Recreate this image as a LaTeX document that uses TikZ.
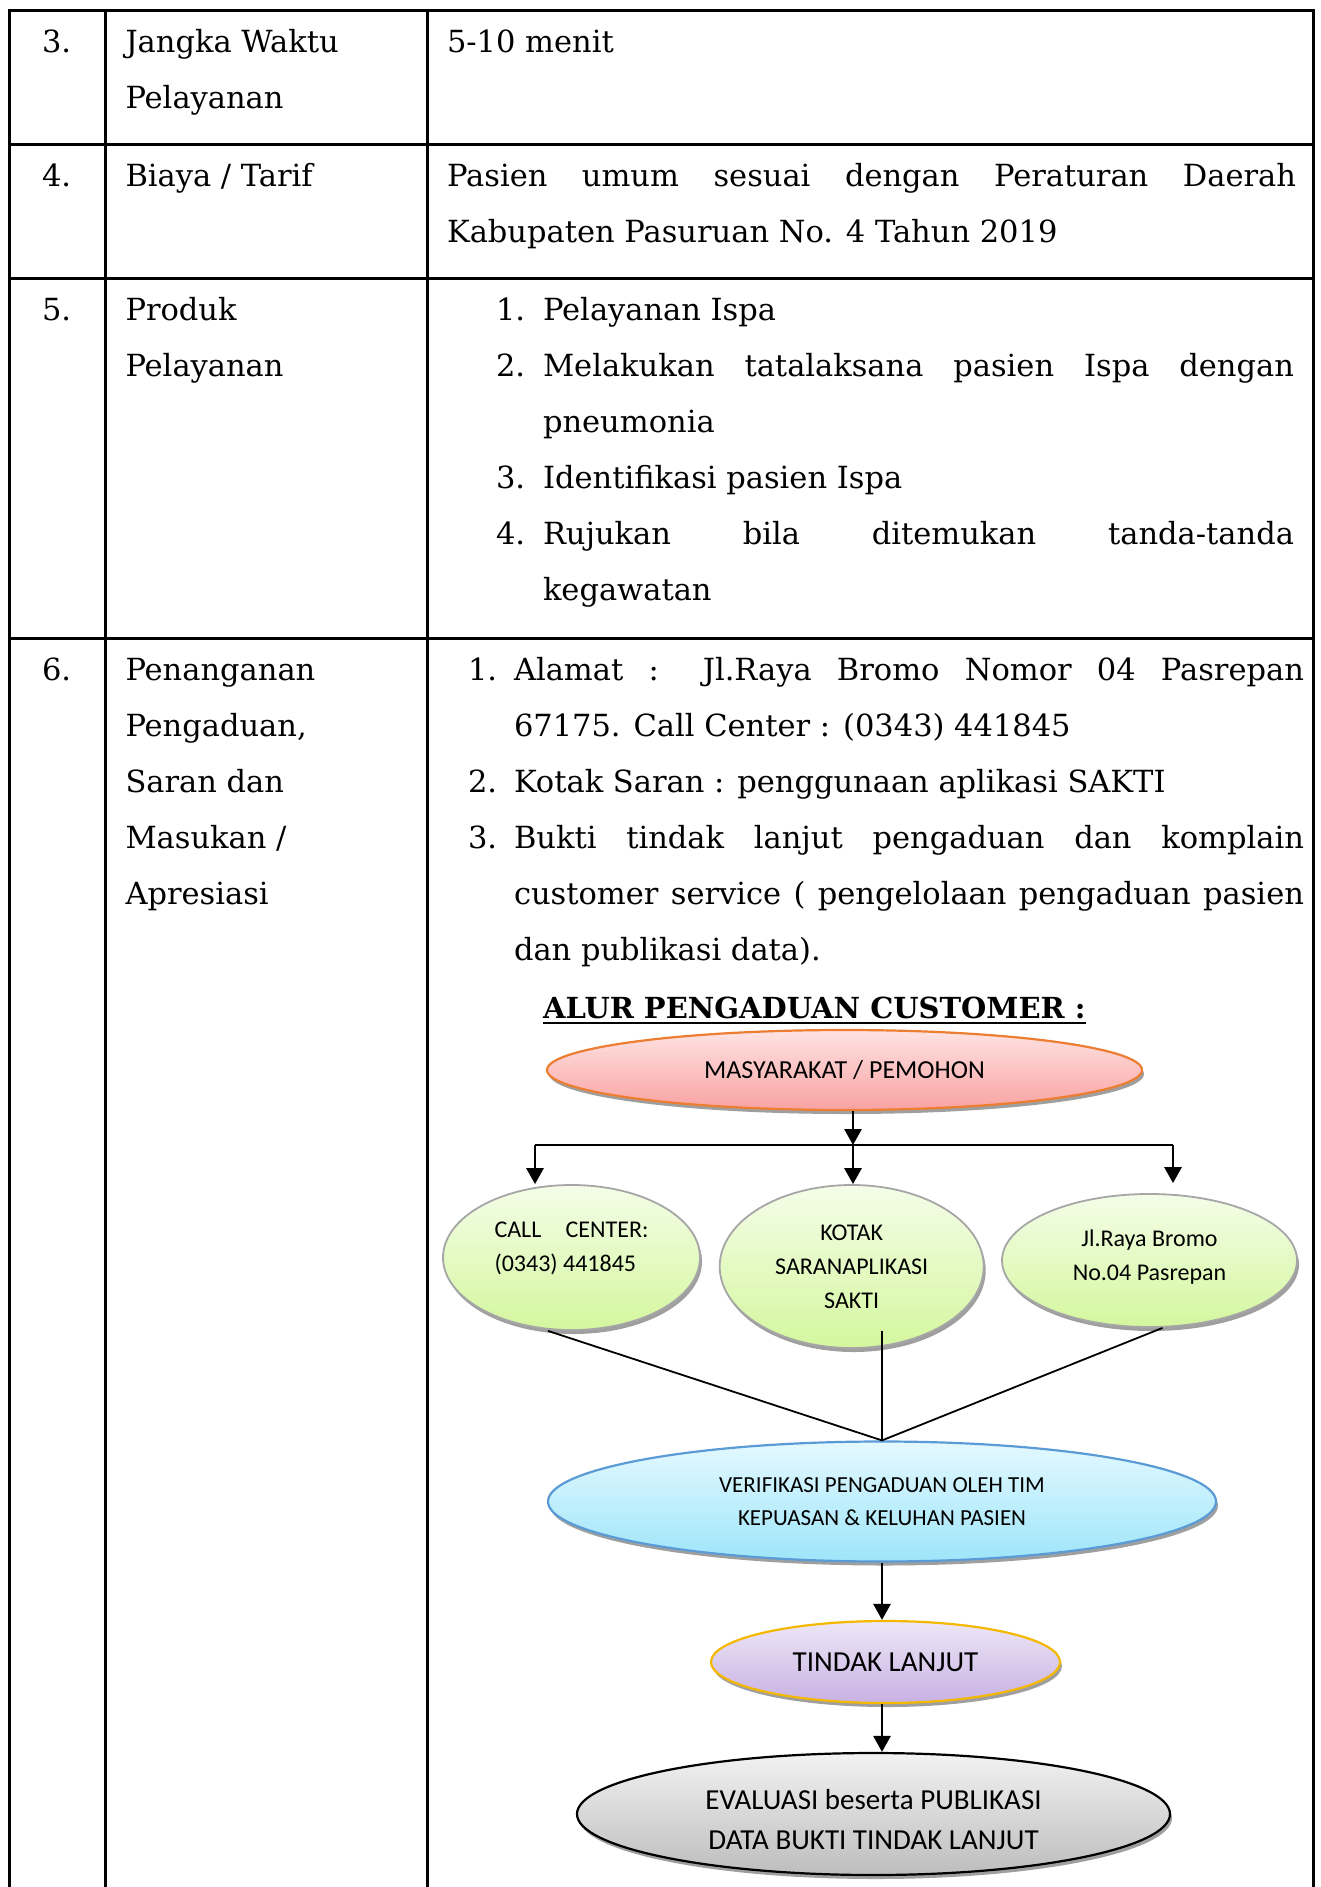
\documentclass[tikz,border=0pt]{standalone}
\usepackage{fontspec}
\setmainfont{DejaVu Serif}
\newfontfamily\calfont{Carlito}
\usetikzlibrary{shapes.geometric,shadows,arrows.meta}
\definecolor{pinkT}{HTML}{FFE3E3}
\definecolor{pinkB}{HTML}{F9A2A2}
\definecolor{orangeBd}{HTML}{ED7D31}
\definecolor{greenT}{HTML}{F4FDE8}
\definecolor{greenB}{HTML}{D4F79E}
\definecolor{grayBd}{HTML}{A6A6A6}
\definecolor{blueT}{HTML}{E4F9FF}
\definecolor{blueB}{HTML}{9EE5FA}
\definecolor{blueBd}{HTML}{5B9BD5}
\definecolor{lavT}{HTML}{EEE7F7}
\definecolor{lavB}{HTML}{C8B1E3}
\definecolor{goldBd}{HTML}{F5B800}
\definecolor{grayT}{HTML}{F2F2F2}
\definecolor{grayB}{HTML}{BDBDBD}
\begin{document}
\begin{tikzpicture}[x=1pt,y=-1pt,
  tline/.style={line width=3pt},
  cell/.style={anchor=base west, inner sep=0pt, outer sep=0pt, font=\fontsize{30.5}{56}\selectfont},
  ell/.style={ellipse, inner sep=0pt, line width=2.2pt, align=center,
    drop shadow={shadow xshift=2pt, shadow yshift=-4pt, fill=gray!75, opacity=1}},
  greenell/.style={ell, draw=grayBd, line width=1.8pt, top color=greenT, bottom color=greenB,
    font=\calfont\fontsize{24}{34}\selectfont},
  arr/.style={line width=2.8pt, -{Triangle[width=17pt,length=16pt]}},
  busline/.style={line width=2.5pt},
  conn/.style={line width=1.8pt},
]
\useasboundingbox (0,0) rectangle (1321,1887);
% ---------- table ----------
\draw[tline, line join=miter] (9,1890) -- (9,10) -- (1313,10) -- (1313,1890);
\draw[tline] (105,10) -- (105,1890);
\draw[tline] (427,10) -- (427,1890);
\draw[tline] (9,144) -- (1313,144);
\draw[tline] (9,278) -- (1313,278);
\draw[tline] (9,638) -- (1313,638);
% row 3
\node[cell] (n3) at (42,52) {3.};
\node[cell] (a3a) at (125.5,52) {Jangka Waktu};
\node[cell] (a3b) at (125.5,108) {Pelayanan};
\node[cell] (b3) at (447,52) {5-10 menit};
% row 4
\node[cell] (n4) at (42,186) {4.};
\node[cell] (a4) at (125.5,186) {Biaya / Tarif};
\node[cell] (b4a) at (447,186) {\makebox[849pt][s]{Pasien umum sesuai dengan Peraturan Daerah}};
\node[cell] (b4b) at (447,242) {Kabupaten Pasuruan No. 4 Tahun 2019};
% row 5
\node[cell] (n5) at (42,320) {5.};
\node[cell] (a5a) at (125.5,320) {Produk};
\node[cell] (a5b) at (125.5,376) {Pelayanan};
\node[cell] (l51) at (496,320) {1.};
\node[cell] (b51) at (543,320) {Pelayanan Ispa};
\node[cell] (l52) at (496,376) {2.};
\node[cell] (b52a) at (543,376) {\makebox[751pt][s]{Melakukan tatalaksana pasien Ispa dengan}};
\node[cell] (b52b) at (543,432) {pneumonia};
\node[cell] (l53) at (496,488) {3.};
\node[cell] (b53) at (543,488) {Identifikasi pasien Ispa};
\node[cell] (l54) at (496,544) {4.};
\node[cell] (b54a) at (543,544) {\makebox[751pt][s]{Rujukan bila ditemukan tanda-tanda}};
\node[cell] (b54b) at (543,600) {kegawatan};
% row 6
\node[cell] (n6) at (42,680) {6.};
\node[cell] (a6a) at (125.5,680) {Penanganan};
\node[cell] (a6b) at (125.5,736) {Pengaduan,};
\node[cell] (a6c) at (125.5,792) {Saran dan};
\node[cell] (a6d) at (125.5,848) {Masukan /};
\node[cell] (a6e) at (125.5,904) {Apresiasi};
\node[cell] (l61) at (468,680) {1.};
\node[cell] (b61a) at (514,680) {\makebox[790pt][s]{Alamat : Jl.Raya Bromo Nomor 04 Pasrepan}};
\node[cell] (b61b) at (514,736) {67175. Call Center : (0343) 441845};
\node[cell] (l62) at (468,792) {2.};
\node[cell] (b62) at (514,792) {Kotak Saran : penggunaan aplikasi SAKTI};
\node[cell] (l63) at (468,848) {3.};
\node[cell] (b63a) at (514,848) {\makebox[790pt][s]{Bukti tindak lanjut pengaduan dan komplain}};
\node[cell] (b63b) at (514,904) {\makebox[790pt][s]{customer service ( pengelolaan pengaduan pasien}};
\node[cell] (b63c) at (514,960) {dan publikasi data).};
% title
\node[anchor=base west, inner sep=0pt, font=\bfseries\fontsize{29}{36}\selectfont] (title) at (543,1018) {ALUR PENGADUAN CUSTOMER :};
\draw[line width=2.5pt] ([yshift=-5pt]title.base west) -- ([yshift=-5pt]title.base east);
% ---------- flow diagram ----------
\node[ell, draw=orangeBd, top color=pinkT, bottom color=pinkB, minimum width=595pt, minimum height=80pt,
  font=\calfont\fontsize{26}{30}\selectfont] (mas) at (844.5,1070) {MASYARAKAT / PEMOHON};
\node[greenell, minimum width=257pt, minimum height=145pt, align=left] (cc) at (571.5,1257.5)
  {\makebox[154pt]{CALL\hfill CENTER:}\\(0343) 441845\rule[-22pt]{0pt}{0pt}};
\node[greenell, minimum width=264pt, minimum height=163pt] (kotak) at (851.7,1266.5)
  {KOTAK\\SARANAPLIKASI\\SAKTI};
\node[greenell, minimum width=295pt, minimum height=133pt] (jl) at (1149.5,1260.5)
  {Jl.Raya Bromo\\No.04 Pasrepan\rule[-11pt]{0pt}{0pt}};
\node[ell, draw=blueBd, top color=blueT, bottom color=blueB, minimum width=668pt, minimum height=120pt,
  font=\calfont\fontsize{23}{33}\selectfont] (ver) at (882,1501.5)
  {VERIFIKASI PENGADUAN OLEH TIM\\KEPUASAN \& KELUHAN PASIEN};
\node[ell, draw=goldBd, top color=lavT, bottom color=lavB, minimum width=349pt, minimum height=82pt,
  font=\calfont\fontsize{29}{34}\selectfont] (tl) at (885.5,1662) {TINDAK LANJUT};
\node[ell, draw=black, top color=grayT, bottom color=grayB, minimum width=593pt, minimum height=122pt,
  font=\calfont\fontsize{29}{40}\selectfont] (ev) at (873.5,1814)
  {\rule{0pt}{32pt}EVALUASI beserta PUBLIKASI\\DATA BUKTI TINDAK LANJUT};
% connectors
\coordinate (busC) at (853,1145);
\coordinate (busL) at (535,1145);
\coordinate (busR) at (1173,1145);
\draw[arr] (mas.south -| busC) -- (busC);
\draw[busline] (busL) -- (busR);
\draw[arr] (busL) -- (busL |- cc.north);
\draw[arr] (busC) -- (busC |- kotak.north);
\draw[arr, shorten >=10pt] (busR) -- (busR |- jl.north);
\draw[conn] ([xshift=-23.5pt]cc.south) -- (ver.north);
\draw[conn] ([yshift=18pt]kotak.south -| ver.north) -- (ver.north);
\draw[conn] ([xshift=13pt]jl.south) -- (ver.north);
\draw[arr] (ver.south) -- (tl.north -| ver.south);
\draw[arr] (tl.south -| ver.south) -- (ev.north -| ver.south);
\end{tikzpicture}
\end{document}
